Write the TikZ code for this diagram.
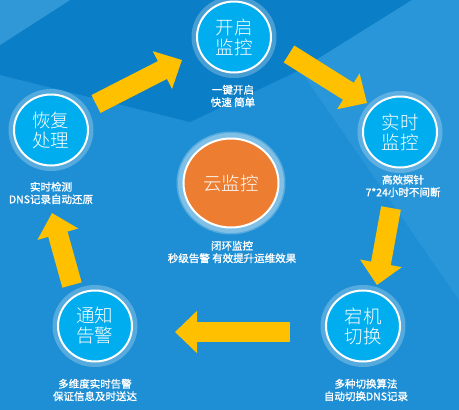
\documentclass[tikz,border=0pt]{standalone}
\usepackage{fontspec}
\setmainfont{Noto Sans CJK SC}
\IfFontExistsTF{Noto Sans CJK SC Light}
  {\newfontfamily\circlefont{Noto Sans CJK SC Light}}
  {\IfFontExistsTF{Noto Sans CJK SC DemiLight}
     {\newfontfamily\circlefont{Noto Sans CJK SC DemiLight}}
     {\newfontfamily\circlefont{Noto Sans CJK SC}}}
\newfontfamily\notefont[FakeBold=1.2]{Noto Sans CJK SC}
\usetikzlibrary{arrows.meta,shapes.geometric}
\definecolor{bgbase}{RGB}{30,143,212}
\definecolor{bgdark}{RGB}{10,126,198}
\definecolor{bglight}{RGB}{40,150,216}
\definecolor{cyanfill}{RGB}{0,174,239}
\definecolor{orangefill}{RGB}{237,125,49}
\definecolor{arrowyellow}{RGB}{255,192,0}
\tikzset{
  stage/.style={ellipse, minimum width=74pt, minimum height=71pt, inner sep=0pt,
    fill=cyanfill, draw=white, line width=2pt,
    preaction={draw=white, draw opacity=0.25, line width=11pt},
    text=white, align=center, font=\circlefont\fontsize{18.5}{20}\selectfont},
  core/.style={stage, minimum width=95pt, minimum height=89pt, fill=orangefill,
    preaction={draw=white, draw opacity=0.25, line width=14pt}},
  note/.style={text=white, align=center, font=\notefont\fontsize{10.5}{12.5}\selectfont, inner sep=0pt},
  flow/.style={draw=arrowyellow, line width=20pt, line cap=butt,
    -{Triangle[width=41pt,length=22pt]}, arrowyellow}
}
\begin{document}
\begin{tikzpicture}[x=1pt,y=-1pt]
\useasboundingbox (0,0) rectangle (459,410);
% background
\fill[bgbase] (0,0) rectangle (459,410);
\fill[bgdark] (0,45) -- (70,0) -- (412,0) -- (300,70) -- (190,122) -- (0,75) -- cycle;
\fill[bglight] (412,0) -- (459,0) -- (459,300) -- (300,70) -- cycle;
\fill[bgbase!92!white] (0,0) -- (70,0) -- (0,45) -- cycle;

% nodes
\node[stage] (start) at (234,37) {开启\\监控};
\node[stage] (live) at (400,132) {实时\\监控};
\node[stage] (switch) at (363,326) {宕机\\切换};
\node[stage] (notify) at (95,326) {通知\\告警};
\node[stage] (recover) at (51,130) {恢复\\处理};
\node[core] (cloud) at (231,183) {云监控};

% labels
\node[note] (startnote) at (233,96) {一键开启\\快速 简单};
\node[note] (livenote) at (403,186) {高效探针\\7*24小时不间断};
\node[note] (switchnote) at (366,390) {多种切换算法\\自动切换DNS记录};
\node[note] (notifynote) at (95,390) {多维度实时告警\\保证信息及时送达};
\node[note] (recovernote) at (51,193) {实时检测\\DNS记录自动还原};
\node[note] (cloudnote) at (232,252) {闭环监控\\秒级告警 有效提升运维效果};

% arrow end points
\coordinate (a1s) at (96,104);  \coordinate (a1e) at (182,60);
\coordinate (a2s) at (289,54);  \coordinate (a2e) at (367,103);
\coordinate (a3s) at (391,208); \coordinate (a3e) at (377,285);
\coordinate (a4s) at (290,332); \coordinate (a4e) at (175,332);
\coordinate (a5s) at (72,285);  \coordinate (a5e) at (52,213);

\draw[flow] (a1s) -- (a1e);
\draw[flow] (a2s) -- (a2e);
\draw[flow] (a3s) -- (a3e);
\draw[flow] (a4s) -- (a4e);
\draw[flow] (a5s) -- (a5e);
\end{tikzpicture}
\end{document}
